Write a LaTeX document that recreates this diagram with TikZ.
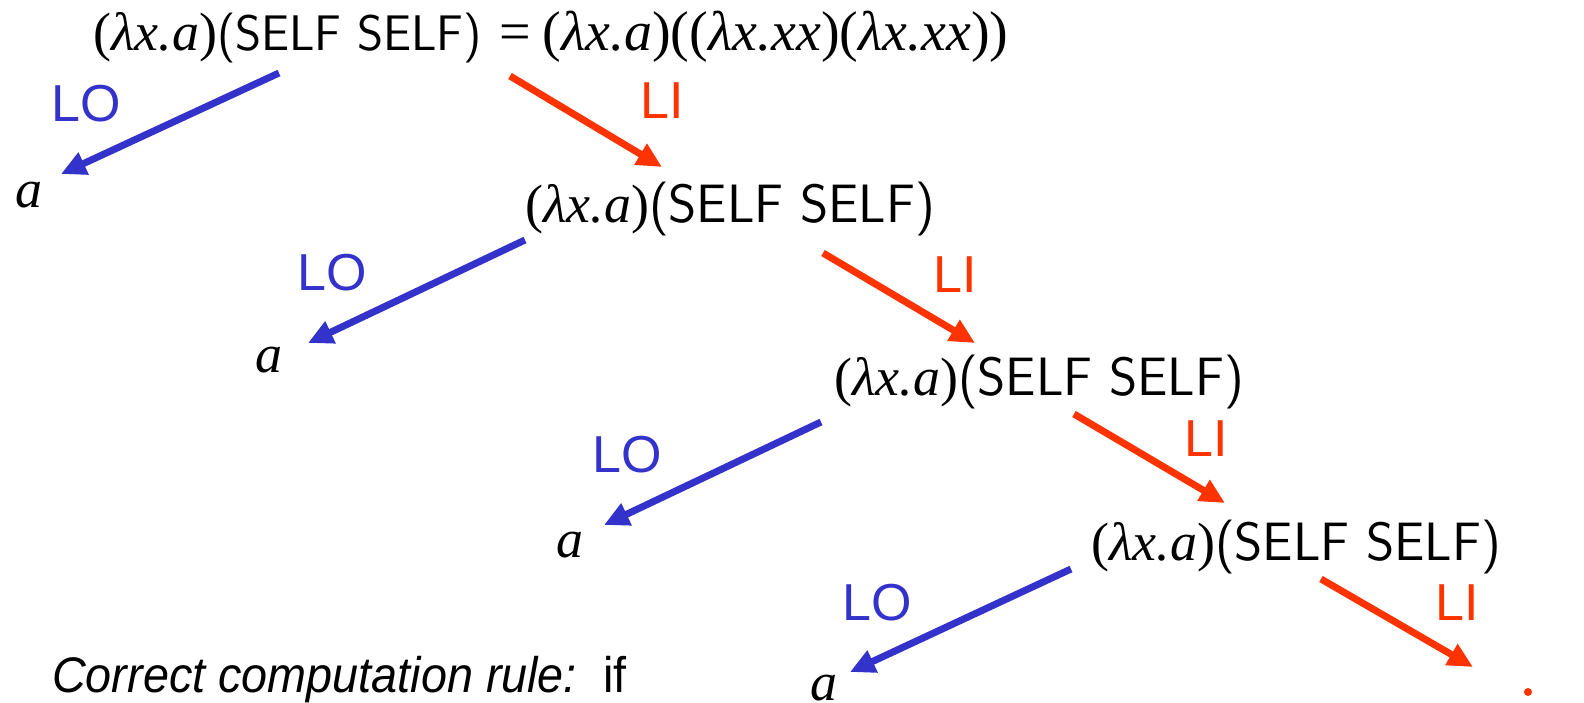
\documentclass[tikz,border=0pt]{standalone}
\usepackage{fontspec}
\setmainfont{Liberation Serif}
\newfontfamily\helv{Liberation Sans}
\newfontfamily\helvn[FakeStretch=0.935]{Liberation Sans}
\usetikzlibrary{arrows.meta}
\definecolor{lblue}{RGB}{51,51,204}
\definecolor{lred}{RGB}{255,51,0}
\newcommand{\selfexpr}{(\textit{λx.a})\textsf{(SELF SELF)}}
\begin{document}
\begin{tikzpicture}[x=1pt,y=-1pt,
  term/.style={anchor=base west,inner sep=0pt,font=\fontsize{54}{62}\selectfont},
  lbl/.style={inner sep=0pt,font=\helv\fontsize{52}{60}\selectfont},
  lo/.style={draw=lblue,line width=7pt,-{Triangle[length=25pt,width=23pt]},fill=lblue},
  li/.style={draw=lred,line width=7pt,-{Triangle[length=25pt,width=23pt]},fill=lred}]
\useasboundingbox (0,0) rectangle (1584,703);
\node[term] (top) at (93,51) {(\textit{λx.a}){\fontsize{50}{60}\selectfont\textsf{(SELF SELF)}}\hspace{18pt}{\fontsize{56}{62}\selectfont=\hspace{11pt}(\textit{λx.a})((\textit{λx.xx})(\textit{λx.xx}))}};
\node[term] (a1) at (15,208) {\textit{a}};
\node[term] (n2) at (525,223) {\selfexpr};
\node[term] (a2) at (255,372) {\textit{a}};
\node[term] (n3) at (834,395) {\selfexpr};
\node[term] (a3) at (556,557) {\textit{a}};
\node[term] (n4) at (1091,560) {\selfexpr};
\node[term] (a4) at (810,700) {\textit{a}};
\node[circle,fill=lred,inner sep=0pt,minimum size=8pt] (dot) at (1528,692) {};
\node[lbl,text=lblue] (lo1) at (86,104) {LO};
\node[lbl,text=lred] (li1) at (662,101) {LI};
\node[lbl,text=lblue] (lo2) at (332,273) {LO};
\node[lbl,text=lred] (li2) at (955,275) {LI};
\node[lbl,text=lblue] (lo3) at (627,455) {LO};
\node[lbl,text=lred] (li3) at (1206,439) {LI};
\node[lbl,text=lblue] (lo4) at (877,603) {LO};
\node[lbl,text=lred] (li4) at (1457,603) {LI};
\node[anchor=base west,inner sep=0pt,font=\helvn\fontsize{50}{60}\selectfont] (rule) at (52,692) {\textit{Correct computation rule:}\ \ if};
\draw[lo] ([xshift=186pt,yshift=-22pt]top.base west) -- ([xshift=46pt,yshift=34pt]a1.base west);
\draw[li] ([xshift=417pt,yshift=-25pt]top.base west) -- ([xshift=137pt,yshift=56pt]n2.base west);
\draw[lo] ([xshift=0pt,yshift=-17pt]n2.base west) -- ([xshift=53pt,yshift=29pt]a2.base west);
\draw[li] ([xshift=298pt,yshift=-30pt]n2.base west) -- ([xshift=141pt,yshift=52pt]n3.base west);
\draw[lo] ([xshift=-13pt,yshift=-27pt]n3.base west) -- ([xshift=48pt,yshift=32pt]a3.base west);
\draw[li] ([xshift=240pt,yshift=-19pt]n3.base west) -- ([xshift=134pt,yshift=57pt]n4.base west);
\draw[lo] ([xshift=-20pt,yshift=-9pt]n4.base west) -- ([xshift=40pt,yshift=28pt]a4.base west);
\draw[li] ([xshift=230pt,yshift=-19pt]n4.base west) -- ([xshift=-55pt,yshift=25pt]dot.center);
\end{tikzpicture}
\end{document}
